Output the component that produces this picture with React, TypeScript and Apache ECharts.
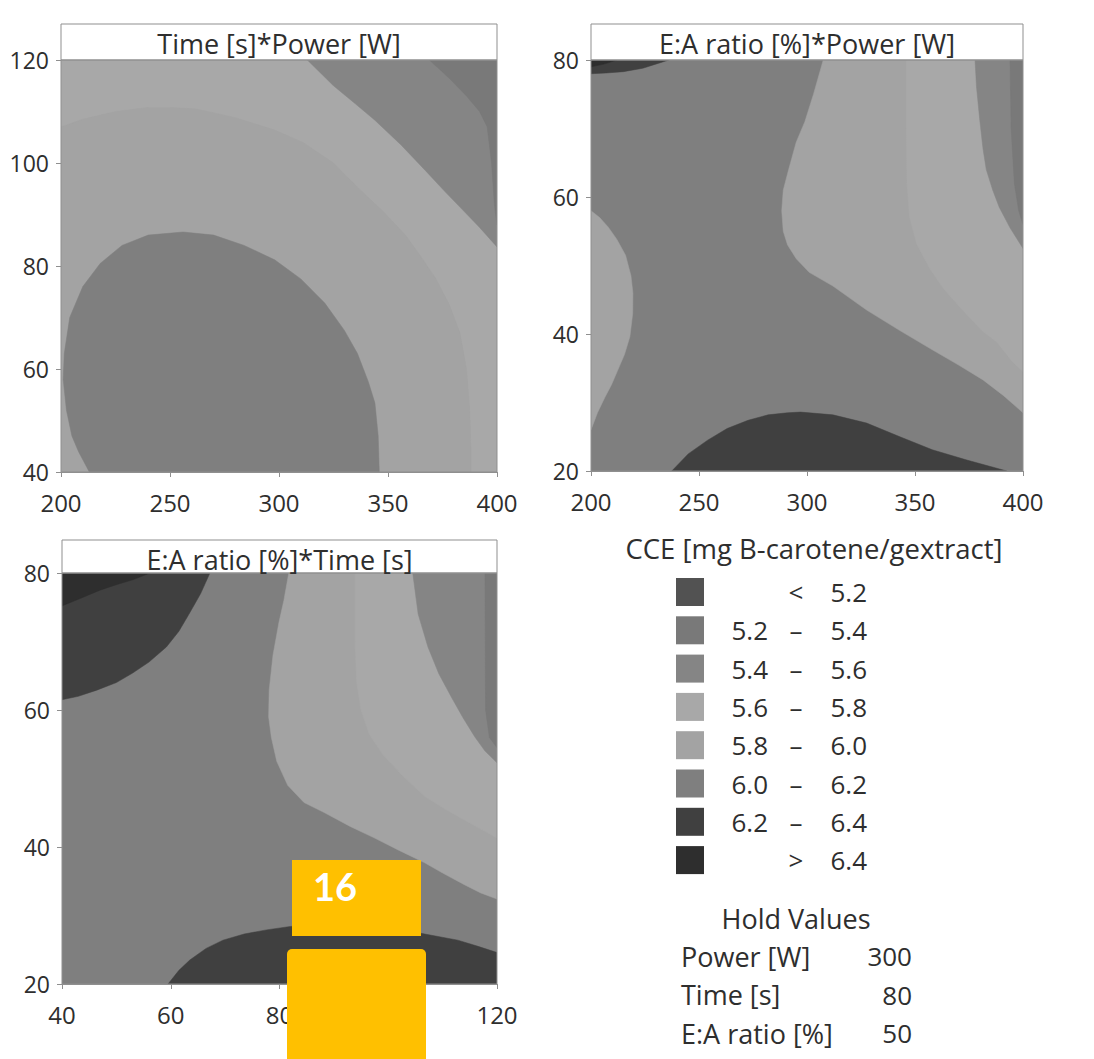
import React, { useEffect, useRef } from "react";
import * as echarts from "echarts";

// ---- legend levels ----
const levelLow = ["", "5.2", "5.4", "5.6", "5.8", "6.0", "6.2", ""];
const levelSep = ["<", "–", "–", "–", "–", "–", "–", ">"];
const levelHigh = ["5.2", "5.4", "5.6", "5.8", "6.0", "6.2", "6.4", "6.4"];
const levelColors = ["#525252", "#797979", "#858585", "#a8a8a8", "#a3a3a3", "#7f7f7f", "#404040", "#2e2e2e"];

const legendTitle = "CCE [mg B-carotene/gextract]";
const holdTitle = "Hold Values";
const holdNames = ["Power [W]", "Time [s]", "E:A ratio [%]"];
const holdValues = ["300", "80", "50"];

const panelTitles = ["Time [s]*Power [W]", "E:A ratio [%]*Power [W]", "E:A ratio [%]*Time [s]"];

// axis ranges
const xMin = [200, 200, 40];
const xMax = [400, 400, 120];
const xStep = [50, 50, 20];
const yMin = [40, 20, 20];
const yMax = [120, 80, 80];
const yStep = [20, 20, 20];

// ---- Panel 1: Time (y) vs Power (x), contour boundaries ----
const p1Base = [[200, 40], [400, 40], [400, 120], [200, 120]];
const p1Band58 = [[200, 40], [200, 107], [210, 108.5], [225, 110], [240, 110.8], [250, 110.8], [262, 110.5], [280, 108.8], [298, 106.4], [311, 104], [325, 100], [336, 95.3], [348, 90.5], [358, 86], [364, 82.5], [372, 77.5], [378, 72.6], [383, 67], [386, 60], [387.5, 52], [388, 45], [388, 40]];
const p1Band60 = [[213, 40], [208, 44], [205, 47], [202.5, 52], [201, 58], [201.5, 63], [204, 70], [210, 76], [218, 80.5], [228, 84], [240, 86], [256, 86.6], [270, 86], [284, 84], [298, 81.2], [310, 77.5], [321, 72.8], [330, 67.5], [336, 63], [341, 57.5], [344, 53.4], [345.5, 47], [346, 40]];
const p1Band54 = [[313, 120], [325, 115], [335, 111.5], [344, 108.3], [356, 103.5], [367, 98.6], [376, 94.5], [384, 91], [392, 87.5], [400, 83.7], [400, 120]];
const p1Band52 = [[369, 120], [378, 116.5], [386, 113], [392, 110], [395.5, 107], [397.5, 100], [398.8, 92], [400, 88], [400, 120]];

// ---- Panel 2: E:A ratio (y) vs Power (x) ----
const p2Base = [[200, 20], [400, 20], [400, 80], [200, 80]];
const p2LeftLobe = [[200, 58], [204, 57], [208, 55.6], [212, 53.8], [216, 51.5], [218.5, 48.5], [219.4, 46], [219.3, 43], [218, 39.6], [215.5, 37], [212.5, 34.8], [209.5, 32.6], [206.5, 30.8], [203, 28.5], [200, 26]];
const p2Light58 = [[307.5, 80], [303, 75], [299, 71], [295, 68], [291.5, 64], [289, 61], [288.3, 58], [289, 55], [291, 53], [295, 51], [301, 49], [312, 47], [327.6, 43.5], [343, 40.5], [358, 37.7], [370, 35.5], [381.5, 33.3], [391, 31], [400, 28.5], [400, 80]];
const p2Light56 = [[346, 80], [346, 70], [346.3, 62], [347.5, 57], [351, 53], [357, 49.5], [363, 46.7], [372, 43.5], [381, 40.5], [388, 38.8], [395, 36], [400, 34.5], [400, 80]];
const p2Band54 = [[377.8, 80], [378.5, 76], [380, 71.2], [381.5, 67], [383, 64], [386, 61], [389, 58.5], [394, 55.5], [400, 52.5], [400, 80]];
const p2Band52 = [[394, 80], [394.5, 70], [396, 62], [398, 58], [400, 56], [400, 80]];
const p2BottomDark = [[237.4, 20], [245, 22.5], [254, 24.5], [263, 26.2], [272.7, 27.4], [282, 28.2], [291, 28.5], [297, 28.6], [312, 28.2], [327.6, 27], [343, 25], [358, 23.1], [374, 21.6], [392.5, 20]];
const p2TopDark = [[200, 80], [236, 80], [231, 79.5], [224, 78.8], [215, 78.3], [207, 78.1], [200, 78]];
const p2TopDarkest = [[200, 80], [212, 80], [206, 79.4], [200, 79]];

// ---- Panel 3: E:A ratio (y) vs Time (x) ----
const p3Base = [[40, 20], [120, 20], [120, 80], [40, 80]];
const p3Light58 = [[81.7, 80], [80.8, 76], [79.9, 72.8], [78.8, 68], [78.1, 62.9], [78, 59], [78.5, 56], [79.5, 52.5], [81.5, 49], [84.5, 46.5], [88.3, 45], [93, 43], [97.5, 41.3], [102, 39.5], [106.7, 37.7], [110, 36.2], [114, 34.5], [117, 33.3], [120, 32.4], [120, 80]];
const p3Light56 = [[93.9, 80], [93.9, 70], [94.2, 64], [95, 60], [96.5, 56.5], [99, 53.5], [102.5, 50.5], [106.7, 47.4], [110.5, 45.5], [115, 43.5], [120, 41.3], [120, 80]];
const p3Band54 = [[104.5, 80], [105.5, 74], [107.3, 69.2], [109.3, 65.3], [111.6, 61.9], [113.8, 58.8], [115.9, 56.1], [117.8, 54], [120, 52.3], [120, 80]];
const p3Band52 = [[117.8, 80], [117.9, 60], [118.6, 56], [120, 54.5], [120, 80]];
const p3TopDark = [[40, 80], [67.2, 80], [65.5, 77], [63.5, 74.2], [61.5, 71.5], [59.2, 69.2], [56, 67], [53, 65.4], [50, 64], [46.4, 62.9], [43, 62], [40, 61.5]];
const p3TopDarkest = [[40, 80], [56.2, 80], [53, 79], [50, 78.3], [47, 77.5], [44, 76.5], [40, 75.2]];
const p3BottomDark = [[59.5, 20], [61.5, 22], [63.5, 23.5], [66.5, 25.2], [69.6, 26.4], [73.5, 27.3], [77.6, 27.9], [82, 28.4], [88, 28.7], [95, 28.6], [100, 28.2], [106, 27.4], [112.8, 26.4], [116.5, 25.5], [119.6, 24.7], [120, 24.6], [120, 20]];

// [panel, level index, polygon] in paint order
const regions: [number, number, number[][]][] = [
  [0, 3, p1Base], [0, 4, p1Band58], [0, 5, p1Band60], [0, 2, p1Band54], [0, 1, p1Band52],
  [1, 5, p2Base], [1, 4, p2LeftLobe], [1, 4, p2Light58], [1, 3, p2Light56], [1, 2, p2Band54], [1, 1, p2Band52], [1, 6, p2BottomDark], [1, 6, p2TopDark], [1, 7, p2TopDarkest],
  [2, 5, p3Base], [2, 4, p3Light58], [2, 3, p3Light56], [2, 2, p3Band54], [2, 1, p3Band52], [2, 6, p3TopDark], [2, 7, p3TopDarkest], [2, 6, p3BottomDark],
];

// ---- layout ----
const GRIDS = [
  { left: 61, top: 60, width: 436, height: 412, titleTop: 24, titleH: 36 },
  { left: 591, top: 60, width: 432, height: 411, titleTop: 24, titleH: 36 },
  { left: 62, top: 573, width: 435, height: 411, titleTop: 540, titleH: 33 },
];
const FONT = "'Open Sans', 'Noto Sans', sans-serif";
const TXT = "#2e2e2e";
const LINE = "#8f8f8f";

export default function App() {
  const ref = useRef<HTMLDivElement>(null);
  useEffect(() => {
    if (!ref.current) return;
    const chart = echarts.init(ref.current, null, { renderer: "svg" });

    const grid = GRIDS.map((g) => ({ left: g.left, top: g.top, width: g.width, height: g.height, containLabel: false }));
    const axisCommon = {
      type: "value" as const,
      axisLine: { show: true, onZero: false, lineStyle: { color: LINE, width: 1 } },
      axisTick: { show: true, length: 5, lineStyle: { color: LINE } },
      splitLine: { show: false },
    };
    const xAxis = GRIDS.map((_, i) => ({
      ...axisCommon,
      gridIndex: i,
      min: xMin[i],
      max: xMax[i],
      interval: xStep[i],
      axisLabel: { fontSize: 24, color: TXT, fontFamily: FONT, margin: 18 },
    }));
    const yAxis = GRIDS.map((_, i) => ({
      ...axisCommon,
      gridIndex: i,
      min: yMin[i],
      max: yMax[i],
      interval: yStep[i],
      axisLabel: { fontSize: 23, color: TXT, fontFamily: FONT, margin: 12 },
    }));

    const series = regions.map(([panel, level, pts]) => ({
      type: "custom" as const,
      xAxisIndex: panel,
      yAxisIndex: panel,
      clip: true,
      silent: true,
      data: pts,
      encode: { x: 0, y: 1 },
      renderItem: (params: any, api: any) => {
        if (params.dataIndex !== 0) return null;
        return {
          type: "polygon",
          shape: { points: pts.map((p) => api.coord(p)) },
          style: { fill: levelColors[level], stroke: levelColors[level], lineWidth: 0.5 },
        };
      },
    }));

    const graphic: any[] = [];
    GRIDS.forEach((g, i) => {
      graphic.push({
        type: "rect",
        z: 100,
        shape: { x: g.left, y: g.titleTop, width: g.width, height: g.titleH },
        style: { fill: "#ffffff", stroke: LINE, lineWidth: 1 },
      });
      graphic.push({
        type: "text",
        z: 101,
        x: g.left + g.width / 2,
        y: g.titleTop + g.titleH / 2 + (i === 2 ? 3 : 1),
        style: { text: panelTitles[i], fontSize: 27, fontFamily: FONT, fill: TXT, align: "center", verticalAlign: "middle" },
      });
      graphic.push({
        type: "rect",
        z: 100,
        shape: { x: g.left, y: g.top, width: g.width, height: g.height },
        style: { fill: "none", stroke: LINE, lineWidth: 1 },
      });
    });

    // legend
    graphic.push({
      type: "text",
      z: 100,
      x: 814,
      y: 548,
      style: { text: legendTitle, fontSize: 27.5, fontFamily: FONT, fill: TXT, align: "center", verticalAlign: "middle" },
    });
    levelColors.forEach((c, i) => {
      const top = 578 + i * 38.3;
      const cy = top + 14;
      graphic.push({ type: "rect", z: 100, shape: { x: 676, y: top, width: 28, height: 28 }, style: { fill: c } });
      if (levelLow[i]) {
        graphic.push({ type: "text", z: 100, x: 768, y: cy, style: { text: levelLow[i], fontSize: 26, fontFamily: FONT, fill: TXT, align: "right", verticalAlign: "middle" } });
      }
      graphic.push({ type: "text", z: 100, x: 796, y: cy, style: { text: levelSep[i], fontSize: 26, fontFamily: FONT, fill: TXT, align: "center", verticalAlign: "middle" } });
      graphic.push({ type: "text", z: 100, x: 867, y: cy, style: { text: levelHigh[i], fontSize: 26, fontFamily: FONT, fill: TXT, align: "right", verticalAlign: "middle" } });
    });

    // hold values
    graphic.push({
      type: "text",
      z: 100,
      x: 796,
      y: 918,
      style: { text: holdTitle, fontSize: 27, fontFamily: FONT, fill: TXT, align: "center", verticalAlign: "middle" },
    });
    holdNames.forEach((n, i) => {
      const cy = 956 + i * 38.5;
      graphic.push({ type: "text", z: 100, x: 681, y: cy, style: { text: n, fontSize: 27, fontFamily: FONT, fill: TXT, align: "left", verticalAlign: "middle" } });
      graphic.push({ type: "text", z: 100, x: 912, y: cy, style: { text: holdValues[i], fontSize: 26, fontFamily: FONT, fill: TXT, align: "right", verticalAlign: "middle" } });
    });

    // overlay boxes present on the reference image
    graphic.push({ type: "rect", z: 200, shape: { x: 292, y: 860, width: 129, height: 76 }, style: { fill: "#FFC000" } });
    graphic.push({
      type: "text",
      z: 201,
      x: 313,
      y: 886,
      style: { text: "16", fontSize: 38, fontWeight: "bold", fontFamily: "Lato, 'Open Sans', sans-serif", fill: "#ffffff", align: "left", verticalAlign: "middle" },
    });
    graphic.push({ type: "rect", z: 200, shape: { x: 287, y: 949, width: 139, height: 115, r: [5, 5, 0, 0] }, style: { fill: "#FFC000" } });

    chart.setOption({
      animation: false,
      backgroundColor: "#ffffff",
      grid,
      xAxis,
      yAxis,
      series,
      graphic,
    });
    return () => chart.dispose();
  }, []);

  return <div ref={ref} style={{ position: "fixed", left: 0, top: 0, width: 1094, height: 1059 }} />;
}
